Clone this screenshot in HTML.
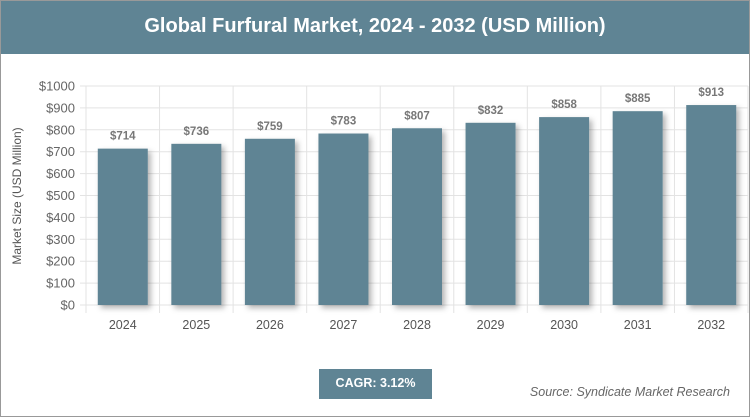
<!DOCTYPE html>
<html><head><meta charset="utf-8"><style>
body{margin:0;width:750px;height:417px;overflow:hidden;font-family:"Liberation Sans",sans-serif;background:#fff}
#frame{position:absolute;left:0;top:0;width:748px;height:415px;border:1px solid #999;}
#title{position:absolute;left:0;top:0;width:748px;height:53px;background:#5f8494;color:#fff;font-weight:bold;font-size:20px;text-align:center;line-height:50px}
#cagr{position:absolute;left:318px;top:368px;width:113px;height:30px;background:#5f8494;color:#fff;font-weight:bold;font-size:12.5px;text-align:center;line-height:28px}
#src{position:absolute;right:19px;top:384px;color:#666;font-style:italic;font-size:12.5px}
</style></head><body>
<div id="frame">
<div id="title">Global Furfural Market, 2024 - 2032 (USD Million)</div>
<svg id="chart" width="750" height="417" style="position:absolute;left:-1px;top:-1px">
<defs><filter id="sh" x="-30%" y="-10%" width="160%" height="130%"><feDropShadow dx="3" dy="3" stdDeviation="3" flood-color="#000" flood-opacity="0.3"/></filter></defs>
</svg>
<div id="cagr">CAGR: 3.12%</div>
<div id="src">Source: Syndicate Market Research</div>
</div>
<script>
const categories=["2024","2025","2026","2027","2028","2029","2030","2031","2032"];
const values=[714,736,759,783,807,832,858,885,913];
const valueLabels=["$714","$736","$759","$783","$807","$832","$858","$885","$913"];
const yTicks=[0,100,200,300,400,500,600,700,800,900,1000];
const svg=document.getElementById('chart');const NS="http://www.w3.org/2000/svg";
const L=86,R=748,T=86,B=305,yMax=1000;
const y=v=>B-(v/yMax)*(B-T);
const bw=(R-L)/categories.length;
const x=i=>L+bw*i;
function mk(t,a){const e=document.createElementNS(NS,t);for(const k in a)e.setAttribute(k,a[k]);svg.appendChild(e);return e;}
yTicks.forEach(v=>{
 const g=mk('line',{x1:L-6,x2:R,y1:y(v),y2:y(v),stroke:'#e3e3e3','stroke-width':1});
 
 
 const t=mk('text',{x:L-11,y:y(v)+4.5,'text-anchor':'end','font-size':13,fill:'#666'});t.textContent='$'+v;
 
 
});
for(let i=0;i<=categories.length;i++){
 const g=mk('line',{x1:x(i),x2:x(i),y1:T,y2:B+8,stroke:'#e3e3e3','stroke-width':1});
 
 
}
categories.forEach((c,i)=>{
 const cx=x(i)+bw/2;
 const r=mk('rect',{x:cx-25,y:y(values[i]),width:50,height:B-y(values[i]),fill:'#5f8494',filter:'url(#sh)'});
 
 
 const v=mk('text',{x:cx,y:y(values[i])-9,'text-anchor':'middle','font-size':11.5,'font-weight':'bold',fill:'#777'});v.textContent=valueLabels[i];
 
 
 const t=mk('text',{x:cx,y:B+24,'text-anchor':'middle','font-size':12.5,fill:'#555'});t.textContent=c;
 
 
});
const at=mk('text',{x:0,y:0,'text-anchor':'middle','font-size':12,fill:'#555',transform:'translate(21,196) rotate(-90)'});at.textContent='Market Size (USD Million)';


</script>
</body></html>
